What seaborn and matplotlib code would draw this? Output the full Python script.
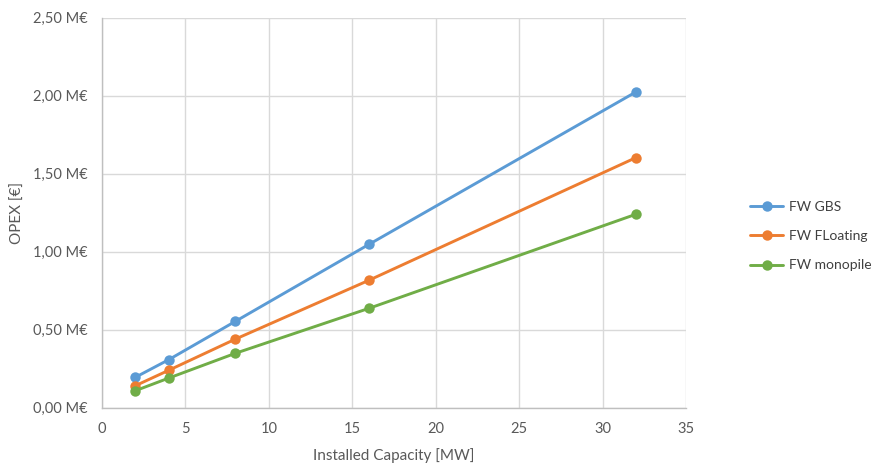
import matplotlib
matplotlib.use("Agg")
import matplotlib.pyplot as plt
from matplotlib.ticker import FuncFormatter, MultipleLocator
import seaborn as sns
import pandas as pd

# Installed capacity [MW] and OPEX [M€] per foundation type
capacity = [2, 4, 8, 16, 32]
series_names = ["FW GBS", "FW FLoating", "FW monopile"]
opex_gbs = [0.195, 0.308, 0.554, 1.047, 2.024]
opex_floating = [0.141, 0.240, 0.440, 0.817, 1.603]
opex_monopile = [0.109, 0.190, 0.349, 0.637, 1.240]
colors = ["#5B9BD5", "#ED7D31", "#70AD47"]

df = pd.DataFrame({
    "capacity": capacity * 3,
    "opex": opex_gbs + opex_floating + opex_monopile,
    "series": sum([[n] * len(capacity) for n in series_names], []),
})

sns.set_theme(style="white")
plt.rcParams["font.family"] = ["Lato", "DejaVu Sans"]
text_color = "#595959"

fig = plt.figure(figsize=(8.77, 4.63), dpi=100)
ax = fig.add_axes([0.1163, 0.1194, 0.6659, 0.8424])

sns.lineplot(data=df, x="capacity", y="opex", hue="series",
             palette=colors, marker="o", markersize=7.5, linewidth=2.1,
             markeredgewidth=0, ax=ax, legend=True)

ax.set_xlim(0, 35)
ax.set_ylim(0, 2.5)
ax.xaxis.set_major_locator(MultipleLocator(5))
ax.yaxis.set_major_locator(MultipleLocator(0.5))
ax.yaxis.set_major_formatter(
    FuncFormatter(lambda v, _: f"{v:.2f}".replace(".", ",") + " M€"))

ax.grid(True, color="#D9D9D9", linewidth=1.0)
ax.set_axisbelow(True)
for side in ["top", "right"]:
    ax.spines[side].set_visible(False)
for side in ["left", "bottom"]:
    ax.spines[side].set_color("#BFBFBF")
    ax.spines[side].set_linewidth(1.0)

ax.tick_params(axis="both", length=0, labelsize=10.5, colors=text_color, pad=10)
ax.set_xlabel("Installed Capacity [MW]", fontsize=11, color=text_color, labelpad=9)
ax.set_ylabel("OPEX [€]", fontsize=11, color=text_color, labelpad=6)

handles, labels = ax.get_legend_handles_labels()
ax.legend(handles, labels, loc="center left", bbox_to_anchor=(0.855, 0.49),
          bbox_transform=fig.transFigure, frameon=False, fontsize=10,
          labelcolor="#404040", handlelength=2.4, labelspacing=1.25,
          borderpad=0, borderaxespad=0, handletextpad=0.4)

fig.savefig("out.png", dpi=100)
